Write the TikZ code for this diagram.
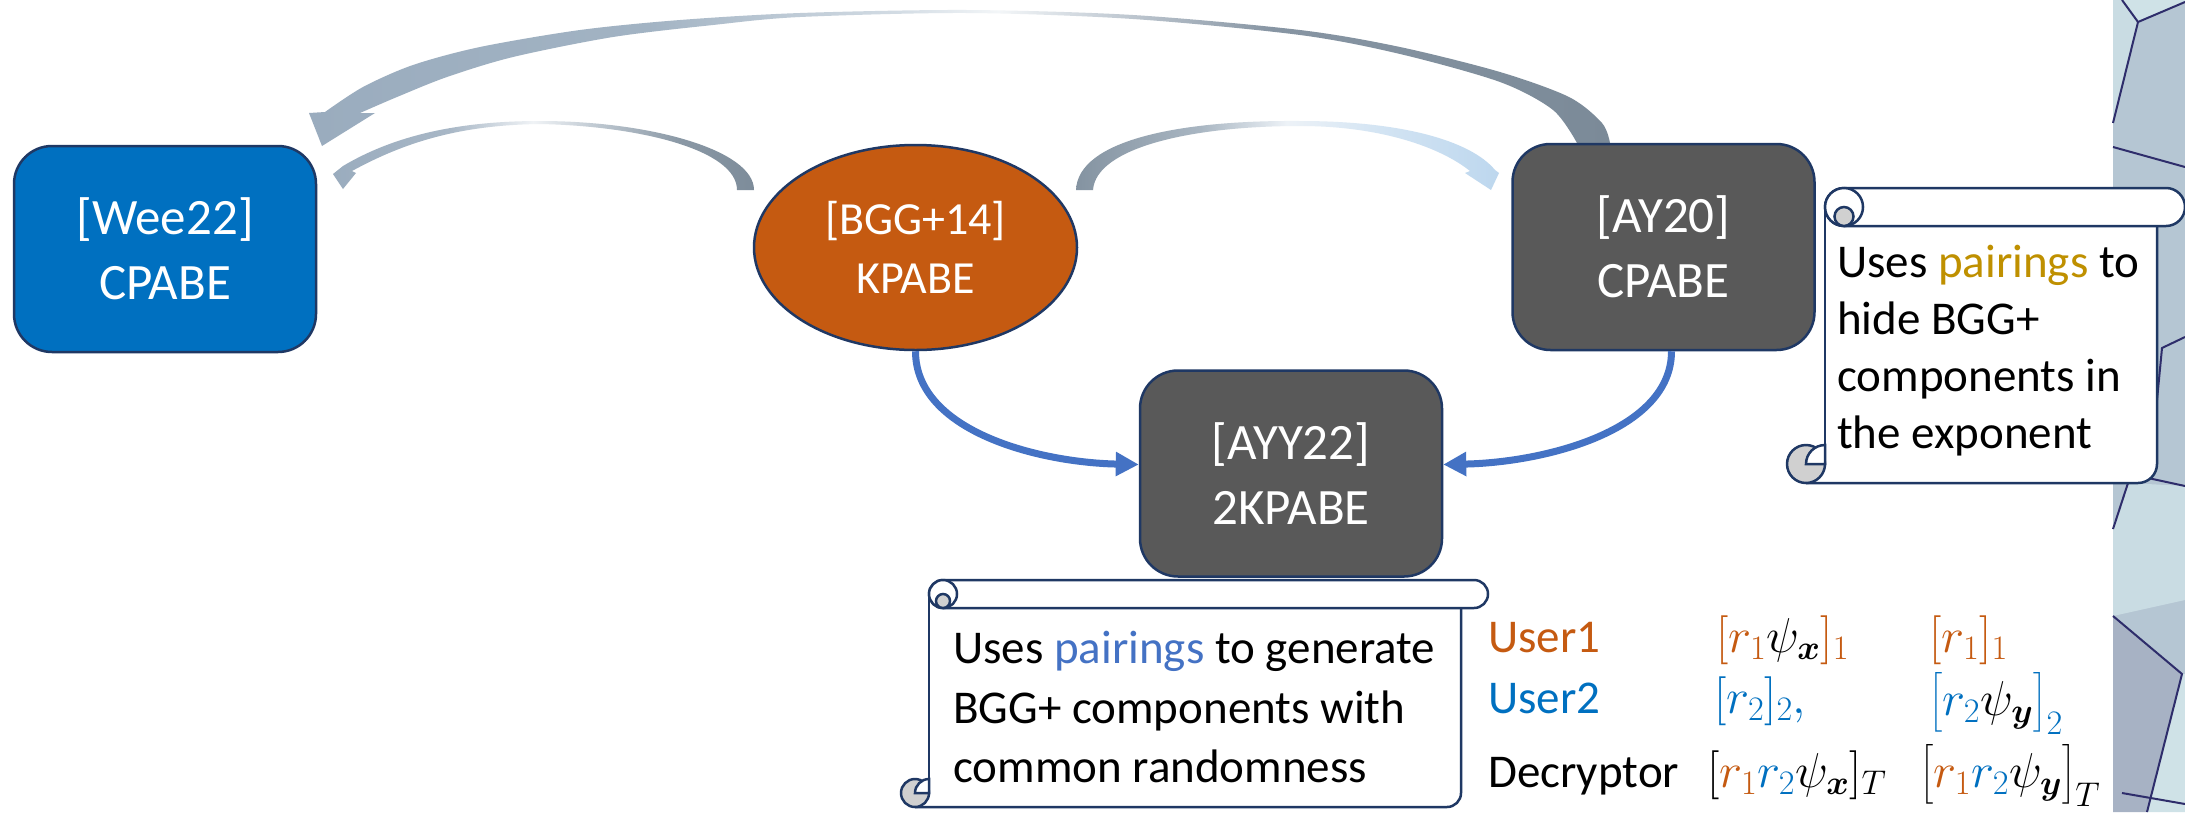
\RequirePackage{fix-cm}
\documentclass[tikz,border=0pt]{standalone}
\usepackage{amsmath}
\usepackage{fontspec}
\setmainfont{Carlito}
\usetikzlibrary{arrows.meta,calc,shapes.geometric}

\definecolor{navy}{HTML}{1F3864}
\definecolor{weeblue}{HTML}{0070C0}
\definecolor{bggor}{HTML}{C55A11}
\definecolor{boxgrey}{HTML}{595959}
\definecolor{arrowblue}{HTML}{4472C4}
\definecolor{pairgold}{HTML}{BF9000}
\definecolor{pairblue}{HTML}{4472C4}
\definecolor{usrblue}{HTML}{0070C0}
\definecolor{rollgrey}{HTML}{D0D0D0}
\definecolor{stripbase}{HTML}{B5C6D3}
\definecolor{striplight}{HTML}{C9DCE3}
\definecolor{stripdark}{HTML}{A7B2C4}
\definecolor{striplighter}{HTML}{CFE2E7}
\definecolor{stripline}{HTML}{2E2D6B}

\definecolor{baA}{HTML}{9AACBE}
\definecolor{baB}{HTML}{A2B3C3}
\definecolor{baC}{HTML}{D3DCE4}
\definecolor{baD}{HTML}{F3F6F8}
\definecolor{baE}{HTML}{C9D1D9}
\definecolor{baF}{HTML}{8795A3}
\definecolor{baG}{HTML}{7B8A98}
\pgfdeclarehorizontalshading{bigarcshade}{100bp}{color(0bp)=(baA); color(25bp)=(baA); color(38bp)=(baB); color(47.7bp)=(baC); color(51.5bp)=(baD); color(55.4bp)=(baE); color(62bp)=(baF); color(75bp)=(baG); color(100bp)=(baG)}

\definecolor{laA}{HTML}{9AACBE}
\definecolor{laB}{HTML}{A8B7C6}
\definecolor{laC}{HTML}{F0F3F6}
\definecolor{laD}{HTML}{BCC6CF}
\definecolor{laE}{HTML}{8A98A5}
\definecolor{laF}{HTML}{7D8C9A}
\pgfdeclarehorizontalshading{leftarcshade}{100bp}{color(0bp)=(laA); color(25bp)=(laA); color(38.9bp)=(laB); color(48.75bp)=(laC); color(56.7bp)=(laD); color(66.2bp)=(laE); color(75bp)=(laF); color(100bp)=(laF)}

\definecolor{raA}{HTML}{8493A1}
\definecolor{raB}{HTML}{A9B6C2}
\definecolor{raC}{HTML}{EDF2F7}
\definecolor{raD}{HTML}{D3E4F3}
\definecolor{raE}{HTML}{BDD7EE}
\pgfdeclarehorizontalshading{rightarcshade}{100bp}{color(0bp)=(raA); color(25bp)=(raA); color(39.7bp)=(raB); color(49.9bp)=(raC); color(60.9bp)=(raD); color(75bp)=(raE); color(100bp)=(raE)}

\newcommand{\myscroll}[6]{%
  \pgfmathsetmacro{\sxb}{#1}\pgfmathsetmacro{\sT}{#2}\pgfmathsetmacro{\sR}{#3}%
  \pgfmathsetmacro{\sxr}{#4}\pgfmathsetmacro{\sB}{#5}\pgfmathsetmacro{\sr}{#6}%
  \fill[white, rounded corners=\sr pt] (\sxb,{\sT+\sr}) -- (\sxb,\sB) -- (\sxr,\sB) -- (\sxr,{\sT+\sr}) -- cycle;
  \draw[scrollline] (\sxb,{\sT+\sr}) -- (\sxb,{\sB-\sr});
  \draw[scrollline, rounded corners=\sr pt] ({\sxb-\sr},\sB) -- (\sxr,\sB) -- (\sxr,{\sT+\sr});
  \draw[scrollline, fill=white, rounded corners=\sr pt] (\sxb,\sT) rectangle (\sR,{\sT+2*\sr});
  \draw[scrollline, fill=white] ({\sxb+\sr},{\sT+\sr}) circle[radius=\sr];
  \draw[scrollline, fill=rollgrey] ({\sxb+\sr},{\sT+1.5*\sr}) circle[radius=0.5*\sr];
  \draw[scrollline, fill=rollgrey] ({\sxb-\sr},{\sB-\sr}) circle[radius=\sr];
  \draw[scrollline, fill=white] ({\sxb-\sr},{\sB-\sr}) .. controls ({\sxb-\sr},{\sB-1.552*\sr}) and ({\sxb-0.552*\sr},{\sB-2*\sr}) .. (\sxb,{\sB-2*\sr}) -- (\sxb,{\sB-\sr}) -- cycle;
}

\tikzset{
  box/.style={rectangle, rounded corners=38pt, draw=navy, line width=2.5pt,
    minimum width=302pt, minimum height=206pt, inner sep=0pt, text=white,
    align=center, font=\fontsize{51}{65}\selectfont},
  ovalnode/.style={ellipse, draw=navy, line width=2.5pt, fill=bggor,
    minimum width=323pt, minimum height=205pt, inner sep=0pt, text=white,
    align=center, font=\fontsize{46}{59}\selectfont},
  scrollline/.style={draw=navy, line width=2.5pt},
  scrolltext/.style={anchor=base west, inner sep=0pt, font=\fontsize{47}{57}\selectfont},
  mathtext/.style={anchor=base west, inner sep=0pt, font=\fontsize{49}{58}\selectfont},
  bluearrow/.style={draw=arrowblue, line width=7pt, -{Triangle[length=23pt,width=23pt]}},
  stripedge/.style={draw=stripline, line width=2pt},
}

\begin{document}
\begin{tikzpicture}[x=1pt,y=-1pt]
\useasboundingbox (0,0) rectangle (2185,812);
\fill[white] (0,0) rectangle (2185,812);

% decorative strip at the right
\fill[stripbase] (2113,0) rectangle (2185,812);
\fill[striplight] (2113,0) -- (2122,0) -- (2138,22) -- (2113,123) -- cycle;
\fill[striplighter] (2122,0) -- (2185,0) -- (2185,2) -- (2138,22) -- cycle;
\fill[striplight] (2113,529) -- (2128,483) -- (2185,486) -- (2185,600) -- (2113,616) -- cycle;
\fill[stripdark] (2113,616) -- (2182,674) -- (2147,812) -- (2113,812) -- cycle;
\fill[striplighter] (2182,674) -- (2185,674) -- (2185,812) -- (2147,812) -- cycle;
\draw[stripedge] (2122,0) -- (2138,22) -- (2185,2);
\draw[stripedge] (2138,22) -- (2113,123);
\draw[stripedge] (2113,147) -- (2185,167);
\draw[stripedge] (2185,337) -- (2162,348) -- (2157,400);
\draw[stripedge] (2148,478) -- (2185,486);
\draw[stripedge] (2128,483) -- (2113,529);
\draw[stripedge] (2113,616) -- (2182,674) -- (2147,812);
\draw[stripedge] (2122,793) -- (2185,804);

% curved grey arrows
\shade[shading=bigarcshade] plot[smooth] coordinates {(1610,143) (1602,123) (1569,97) (1500,72) (1400,47) (1300,30) (1133,15) (967,10) (800,13) (680,20) (580,30) (480,47) (413,65) (363,87) (325,112)}
  -- (309,113) -- (322,146) -- (375,113) --
  plot[smooth] coordinates {(360,113) (397,97) (447,77) (513,57) (613,37) (713,25) (800,17) (967,13) (1133,19) (1300,35) (1400,54) (1500,82) (1553,110) (1577,143)} -- cycle;
\shade[shading=leftarcshade] (754,190) .. controls (754,150) and (650,121) .. (540,121)
  .. controls (460,121) and (395,135) .. (343,166) -- (333,174) -- (343,189) -- (356,173) -- (352,171)
  .. controls (405,142) and (460,125) .. (540,124) .. controls (640,126) and (737,150) .. (737,190) -- cycle;
\shade[shading=rightarcshade] (1076,190) .. controls (1078,140) and (1180,120) .. (1300,121)
  .. controls (1400,121) and (1470,140) .. (1495,170) -- (1499,173) -- (1491,190) -- (1465,173) -- (1470,171)
  .. controls (1440,147) and (1380,126) .. (1300,126) .. controls (1190,126) and (1096,148) .. (1093,190) -- cycle;

% main nodes
\node[box, fill=weeblue] (wee) at (165,249) {[Wee22]\\CPABE};
\node[ovalnode] (bgg) at (915.5,247.5) {[BGG+14]\\KPABE};
\node[box, fill=boxgrey] (ay) at (1663.5,247) {[AY20]\\CPABE};
\node[box, fill=boxgrey] (ayy) at (1291,473.5) {[AYY22]\\2KPABE};

% blue arrows
\draw[bluearrow] (bgg.south) .. controls +(0,80) and +(-100,-2) .. ([yshift=9pt]ayy.west);
\draw[bluearrow] ([xshift=8pt]ay.south) .. controls +(0,80) and +(100,-2) .. ([yshift=9pt]ayy.east);

% scrolls
\myscroll{1825}{188}{2185}{2157}{483}{19}
\node[scrolltext] (sa1) at (1837,277) {Uses \textcolor{pairgold}{pairings} to};
\node[scrolltext] (sa2) at (1837,334) {hide BGG+};
\node[scrolltext] (sa3) at (1837,391) {components in};
\node[scrolltext] (sa4) at (1837,448) {the exponent};

\myscroll{929}{580}{1488}{1461}{807}{14}
\node[scrolltext] (sb1) at (953,663) {Uses \textcolor{pairblue}{pairings} to generate};
\node[scrolltext] (sb2) at (953,723) {BGG+ components with};
\node[scrolltext] (sb3) at (953,782) {common randomness};

% table
\node[scrolltext, text=bggor] (u1) at (1488,652) {User1};
\node[scrolltext, text=usrblue] (u2) at (1488,713) {User2};
\node[scrolltext] (dec) at (1488,787) {Decryptor};

\node[mathtext] (m11) at (1716,652) {$\color{bggor}[r_1{\color{black}\psi_{\boldsymbol{x}}}]_1$};
\node[mathtext] (m12) at (1929,652) {$\color{bggor}[r_1]_1$};
\node[mathtext] (m21) at (1714,713) {$\color{usrblue}[r_2]_2,$};
\node[mathtext] (m22) at (1929,715) {$\color{usrblue}\bigl[r_2{\color{black}\psi_{\boldsymbol{y}}}\bigr]_2$};
\node[mathtext] (m31) at (1707,787) {$[{\color{bggor}r_1}{\color{usrblue}r_2}\psi_{\boldsymbol{x}}]_T$};
\node[mathtext] (m32) at (1920,787) {$\bigl[{\color{bggor}r_1}{\color{usrblue}r_2}\psi_{\boldsymbol{y}}\bigr]_T$};
\end{tikzpicture}
\end{document}
